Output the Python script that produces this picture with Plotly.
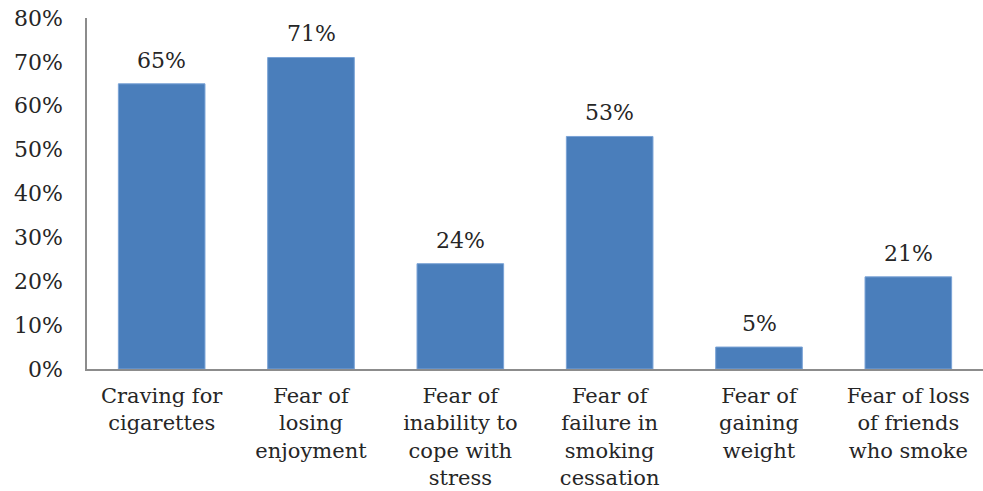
import plotly.graph_objects as go

categories = [
    "Craving for<br>cigarettes",
    "Fear of<br>losing<br>enjoyment",
    "Fear of<br>inability to<br>cope with<br>stress",
    "Fear of<br>failure in<br>smoking<br>cessation",
    "Fear of<br>gaining<br>weight",
    "Fear of loss<br>of friends<br>who smoke",
]
values = [65, 71, 24, 53, 5, 21]
labels = ["65%", "71%", "24%", "53%", "5%", "21%"]
tick_vals = [0, 10, 20, 30, 40, 50, 60, 70, 80]
tick_text = ["0%", "10%", "20%", "30%", "40%", "50%", "60%", "70%", "80%"]

font_family = "DejaVu Serif, Liberation Serif, serif"
font_size = 22
font_color = "#262626"

fig = go.Figure()
fig.add_trace(go.Bar(
    x=categories, y=values,
    marker=dict(color="#4a7ebb", line=dict(color="#7aa3d6", width=1)),
    width=0.58,
    hoverinfo="skip",
))
for c, v, t in zip(categories, values, labels):
    fig.add_annotation(x=c, y=v, text=t, showarrow=False, yanchor="bottom",
                       yshift=9, font=dict(family=font_family, size=font_size, color=font_color))

fig.update_layout(
    width=983, height=491,
    margin=dict(l=87, r=0, t=18, b=122),
    plot_bgcolor="white", paper_bgcolor="white",
    showlegend=False,
    font=dict(family=font_family, size=font_size, color=font_color),
    xaxis=dict(showline=True, linecolor="#8c8c8c", linewidth=1.5, ticks="",
               automargin=False, ticklabelstandoff=7,
               tickfont=dict(family=font_family, size=21, color=font_color)),
    yaxis=dict(range=[0, 80], tickvals=tick_vals, ticktext=tick_text,
               showline=True, linecolor="#8c8c8c", linewidth=1.5, showgrid=False,
               ticks="", zeroline=False, ticklabelstandoff=18, automargin=False,
               tickfont=dict(family=font_family, size=font_size, color=font_color)),
)

fig.write_html(
    "out.html",
    config={"displayModeBar": False},
    post_script="document.body.style.margin='0';document.body.style.overflow='hidden';",
)
